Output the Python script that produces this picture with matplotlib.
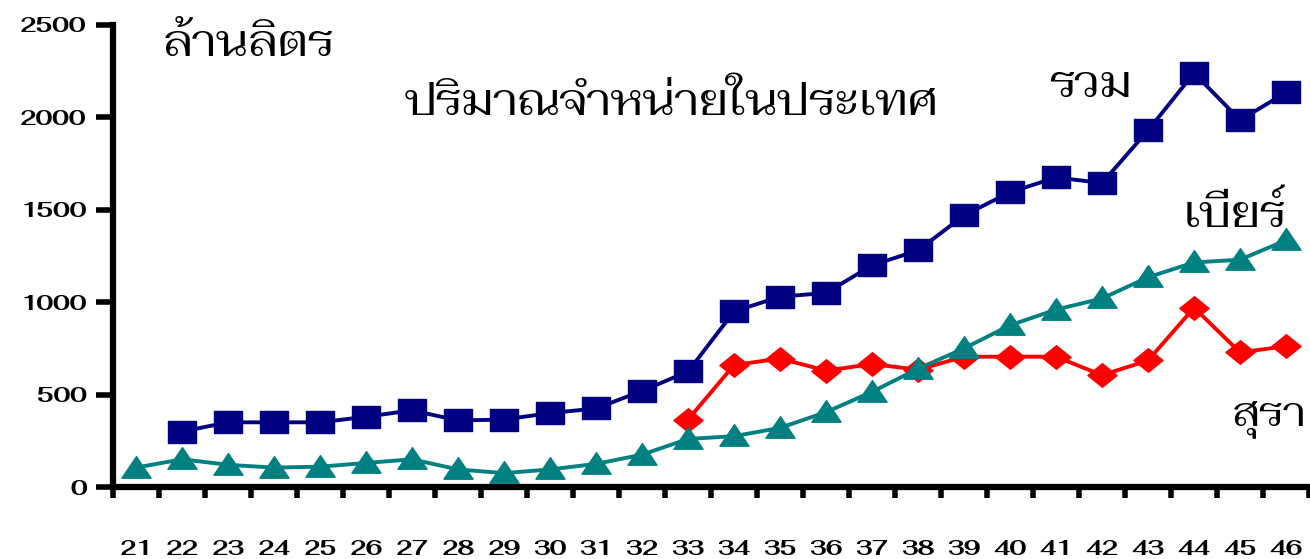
import numpy as np
import matplotlib
matplotlib.use('Agg')
import matplotlib.pyplot as plt
from matplotlib.path import Path

# Domestic sales volume (million litres) by year, B.E. 2521-2546
years = ['21', '22', '23', '24', '25', '26', '27', '28', '29', '30', '31', '32', '33',
         '34', '35', '36', '37', '38', '39', '40', '41', '42', '43', '44', '45', '46']

# total: no figure for year 21
total = [np.nan, 300, 350, 350, 350, 380, 415, 360, 365, 400, 425, 520, 625,
         950, 1030, 1050, 1200, 1280, 1470, 1595, 1675, 1645, 1930, 2240, 1985, 2135]

beer = [105, 150, 120, 105, 110, 130, 150, 95, 75, 95, 125, 175, 260,
        275, 320, 405, 515, 640, 750, 875, 960, 1020, 1135, 1215, 1230, 1335]

# spirits: series starts at year 33
spirits = [np.nan] * 12 + [365, 660, 695, 630, 665, 635, 705, 705, 705, 605, 685, 970, 728, 762]

y_ticks = [0, 500, 1000, 1500, 2000, 2500]

thai_font = ['Fahkwang', 'DejaVu Sans']

# wide markers, the source graphic is stretched sideways
square = Path([(-1.3, -1), (1.3, -1), (1.3, 1), (-1.3, 1), (-1.3, -1)], closed=True)
triangle = Path([(-1.35, -0.9), (1.35, -0.9), (0, 1.1), (-1.35, -0.9)], closed=True)
diamond = Path([(-1.3, 0), (0, -1.05), (1.3, 0), (0, 1.05), (-1.3, 0)], closed=True)

fig = plt.figure(figsize=(13.1, 5.59), dpi=100)
ax = fig.add_axes([0.0863, 0.1288, 0.913, 0.8265])

x = np.arange(len(years))
ax.plot(x, total, color='#000080', lw=2.8, marker=square, ms=20, mec='#000080', zorder=3)
ax.plot(x, beer, color='#008080', lw=2.8, marker=triangle, ms=21, mec='#008080', zorder=5)
ax.plot(x, spirits, color='#ff0000', lw=2.8, marker=diamond, ms=21, mec='#ff0000', zorder=4)

ax.set_xlim(-0.5, len(years) - 0.5)
ax.set_ylim(0, 2500)

for side in ['top', 'right']:
    ax.spines[side].set_visible(False)
for side in ['left', 'bottom']:
    ax.spines[side].set_linewidth(4.5)
    ax.spines[side].set_capstyle('projecting')

tick_font = dict(family=thai_font, fontsize=16, fontweight='bold')

ax.set_yticks(y_ticks)
ax.set_yticklabels([str(v) for v in y_ticks], **tick_font)
ax.tick_params(axis='y', length=12, width=4, pad=7)

# tick marks fall between the years, the labels sit under each year
ax.set_xticks(np.arange(len(years) + 1) - 0.5)
ax.set_xticklabels([])
ax.set_xticks(x, minor=True)
ax.set_xticklabels(years, minor=True, **tick_font)
ax.tick_params(axis='x', which='major', length=8, width=4)
ax.tick_params(axis='x', which='minor', length=0, pad=38)

label_font = dict(family=thai_font, fontsize=31, fontweight='normal', va='baseline')
fig.text(0.124, 0.900, 'ล้านลิตร', **label_font)
fig.text(0.309, 0.794, 'ปริมาณจำหน่ายในประเทศ', **label_font)
fig.text(0.801, 0.826, 'รวม', **label_font)
fig.text(0.903, 0.594, 'เบียร์', **label_font)
# last label sits against the right edge
fig.text(0.997, 0.240, 'สุรา', ha='right', **dict(label_font, fontsize=29))

fig.savefig('out.png', dpi=100)
